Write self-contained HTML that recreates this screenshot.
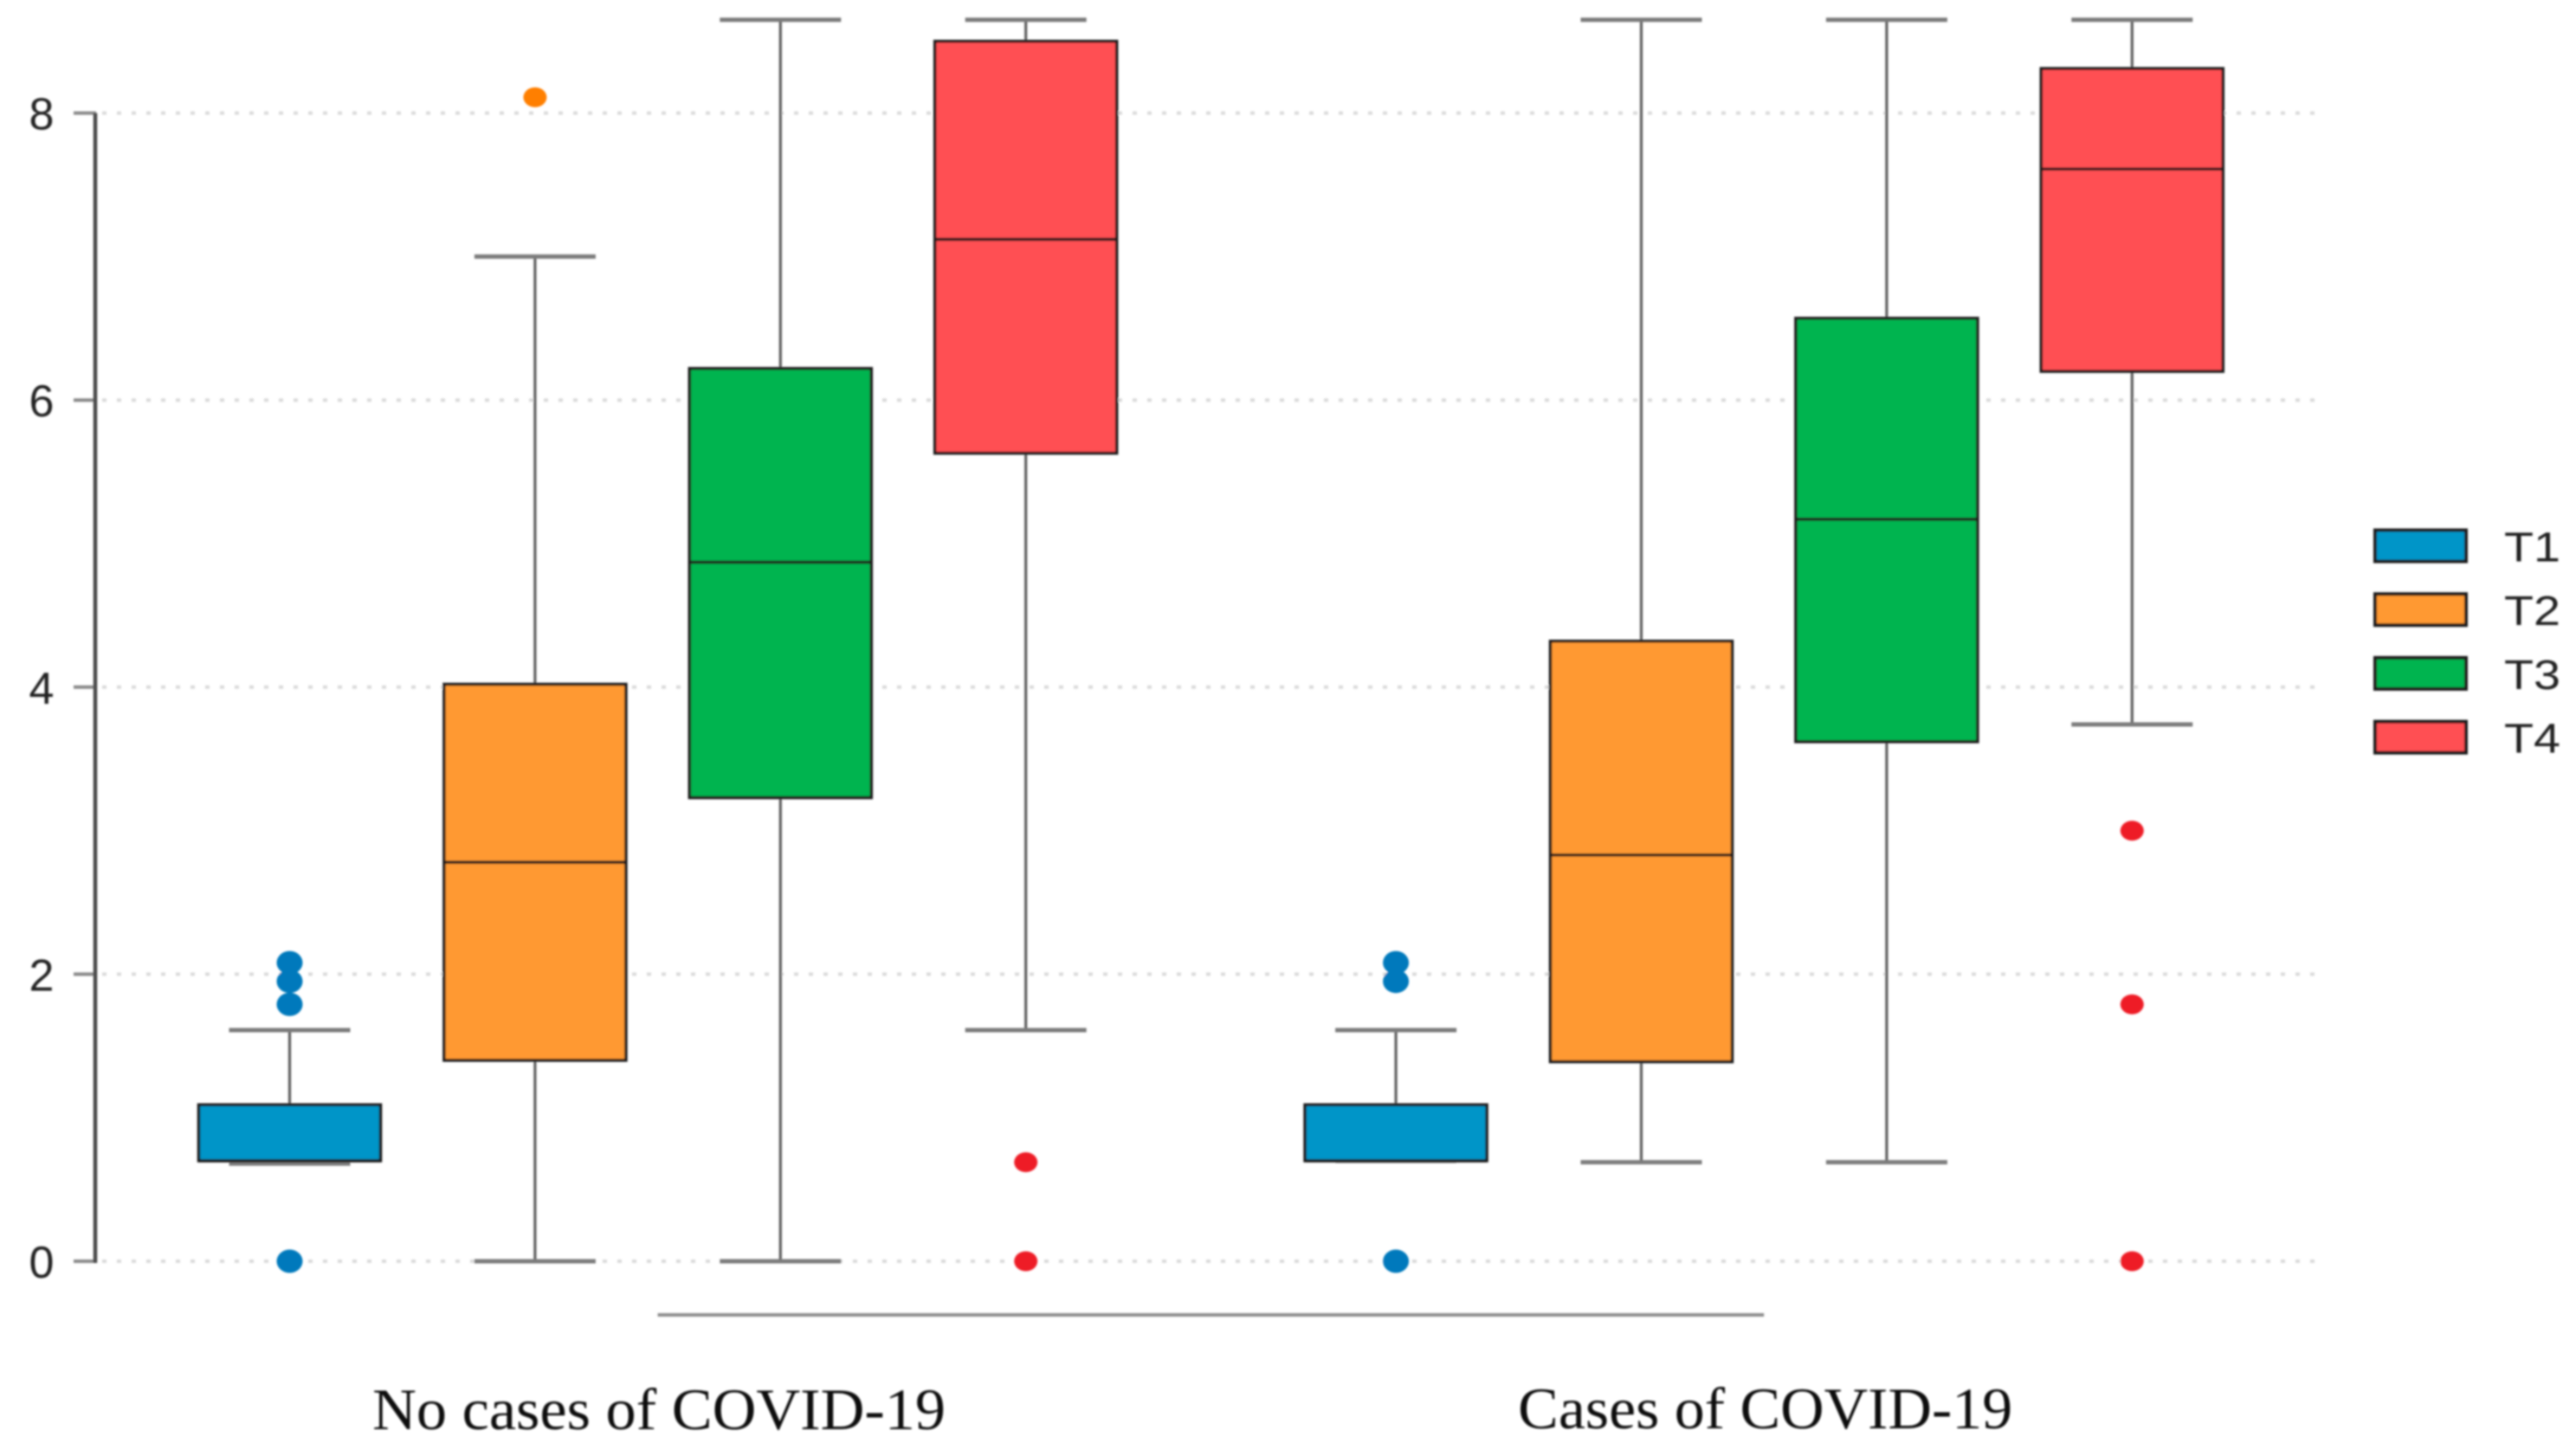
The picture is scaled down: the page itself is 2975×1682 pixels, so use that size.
<!DOCTYPE html>
<html lang="en">
<head>
<meta charset="utf-8">
<title>Box plot of T1–T4 by COVID-19 cases</title>
<style>
html,body{margin:0;padding:0;background:#fff;}
body{width:2975px;height:1682px;overflow:hidden;}
svg{display:block;}
</style>
</head>
<body>
<svg id="chart" xmlns="http://www.w3.org/2000/svg" width="2975" height="1682" viewBox="0 0 2975 1682">
<defs><filter id="soft" x="-2%" y="-2%" width="104%" height="104%"><feGaussianBlur stdDeviation="1.1"/></filter></defs>
<g id="plot" filter="url(#soft)"></g>
</svg>
<script>
const categories = ["No cases of COVID-19", "Cases of COVID-19"];
const seriesNames = ["T1", "T2", "T3", "T4"];
const yTicks = [0, 2, 4, 6, 8];
const tickLabels = ["0", "2", "4", "6", "8"];
const q1Values = [[0.70, 1.40, 3.23, 5.63], [0.70, 1.39, 3.62, 6.20]];
const medianValues = [[0.70, 2.78, 4.87, 7.12], [0.70, 2.83, 5.17, 7.61]];
const q3Values = [[1.09, 4.02, 6.22, 8.50], [1.09, 4.32, 6.57, 8.31]];
const whiskerLowValues = [[0.68, 0, 0, 1.61], [0.70, 0.69, 0.69, 3.74]];
const whiskerHighValues = [[1.61, 7.00, 8.65, 8.65], [1.61, 8.65, 8.65, 8.65]];
const outlierValues = [
  [[0, 1.79, 1.95, 2.08], [8.11], [], [0, 0.69]],
  [[0, 1.95, 2.08], [], [], [0, 1.79, 3.00]]
];
const boxColors = ["#0095C8", "#FF9933", "#00B44F", "#FF5053"];
const dotColors = ["#0079BC", "#FF7F00", "#00A651", "#EE1C25"];

const NS = "http://www.w3.org/2000/svg";
const plot = document.getElementById("plot");
function yScale(v) { return 1457 - 165.8 * v; }
function xScale(g, s) { return 334.5 + 1277.6 * g + 283.4 * s; }
function make(tag, attrs, parent) {
  const el = document.createElementNS(NS, tag);
  for (const k in attrs) el.setAttribute(k, attrs[k]);
  (parent || plot).appendChild(el);
  return el;
}

yTicks.forEach(function (t, i) {
  const y = yScale(t);
  const grid = make("line", {x1: 118, x2: 2675, y1: y, y2: y, stroke: "#dadada", "stroke-width": 4, "stroke-dasharray": "5 12"});
  
  
  const tick = make("line", {x1: 85, x2: 111, y1: y, y2: y, stroke: "#8a8a8a", "stroke-width": 4});
  
  
  const label = make("text", {x: 48, y: y + 19, "text-anchor": "middle", "font-family": '"Liberation Sans", sans-serif', "font-size": 52, fill: "#222"});
  label.textContent = tickLabels[i];
  
  
});

const axis = make("line", {x1: 110, x2: 110, y1: yScale(8), y2: yScale(0) + 2, stroke: "#4a4a4a", "stroke-width": 4.5});



categories.forEach(function (cat, g) {
  seriesNames.forEach(function (name, s) {
    const cx = xScale(g, s);
    const whisker = make("line", {x1: cx, x2: cx, y1: yScale(whiskerHighValues[g][s]), y2: yScale(whiskerLowValues[g][s]), stroke: "#5e5e5e", "stroke-width": 3.2});
    
    
    [whiskerHighValues[g][s], whiskerLowValues[g][s]].forEach(function (w) {
      const cap = make("line", {x1: cx - 70, x2: cx + 70, y1: yScale(w), y2: yScale(w), stroke: "#7c7c7c", "stroke-width": 5});
      
      
    });
    const top = yScale(q3Values[g][s]);
    const box = make("rect", {x: cx - 105, y: top, width: 210, height: yScale(q1Values[g][s]) - top, fill: boxColors[s], stroke: "#1f1f1f", "stroke-width": 3.5});
    
    
    const med = make("line", {x1: cx - 105, x2: cx + 105, y1: yScale(medianValues[g][s]), y2: yScale(medianValues[g][s]), stroke: "#1f1f1f", "stroke-width": 3.5});
    
    
    outlierValues[g][s].forEach(function (o) {
      const dot = make("ellipse", {cx: cx, cy: yScale(o), rx: s === 0 ? 15 : 13.5, ry: s === 0 ? 13.5 : 11.5, fill: dotColors[s]});
      
      
    });
  });
});

const groupCenter0 = (xScale(0, 0) + xScale(0, 3)) / 2;
const groupCenter1 = (xScale(1, 0) + xScale(1, 3)) / 2;
const xLine = make("line", {x1: groupCenter0, x2: groupCenter1, y1: 1519, y2: 1519, stroke: "#8f8f8f", "stroke-width": 4});



const labelWidths = [662, 571];
categories.forEach(function (cat, g) {
  const c = (xScale(g, 0) + xScale(g, 3)) / 2 + 1.5;
  const t = make("text", {x: c, y: 1651 - g, "text-anchor": "middle", "font-family": '"Liberation Serif", serif', "font-size": 68, fill: "#111", textLength: labelWidths[g], lengthAdjust: "spacingAndGlyphs"});
  t.textContent = cat;
  
  
});

seriesNames.forEach(function (name, s) {
  const top = 612.5 + 73.7 * s;
  const sw = make("rect", {x: 2743, y: top, width: 105, height: 36, fill: boxColors[s], stroke: "#1f1f1f", "stroke-width": 4});
  
  
  const t = make("text", {x: 2892, y: top + 36, "font-family": '"Liberation Sans", sans-serif', "font-size": 48, fill: "#222", textLength: 65, lengthAdjust: "spacingAndGlyphs"});
  t.textContent = name;
  
  
});
</script>
</body>
</html>
